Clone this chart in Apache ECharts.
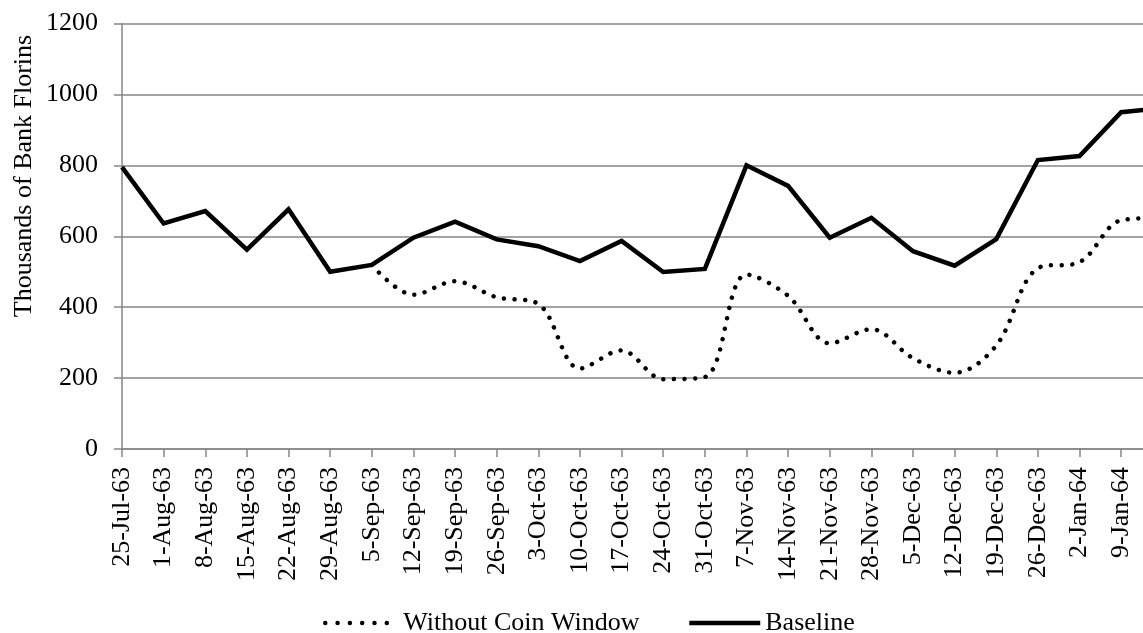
<!DOCTYPE html>
<html>
<head>
<meta charset="utf-8">
<script src="https://cdn.jsdelivr.net/npm/echarts@6/dist/echarts.min.js"></script>
<style>
html,body{margin:0;padding:0;background:#fff;}
#chart{width:1143px;height:633px;}
</style>
</head>
<body>
<div id="chart"></div>
<script>
var categories = ['25-Jul-63','1-Aug-63','8-Aug-63','15-Aug-63','22-Aug-63','29-Aug-63','5-Sep-63','12-Sep-63','19-Sep-63','26-Sep-63','3-Oct-63','10-Oct-63','17-Oct-63','24-Oct-63','31-Oct-63','7-Nov-63','14-Nov-63','21-Nov-63','28-Nov-63','5-Dec-63','12-Dec-63','19-Dec-63','26-Dec-63','2-Jan-64','9-Jan-64','16-Jan-64'];
var baseline = [795, 636, 671, 562, 676, 500, 519, 596, 641, 591, 572, 530, 587, 499, 508, 800, 742, 596, 652, 558, 517, 592, 815, 826, 950, 962];
var withoutCoinWindow = [null, null, null, null, null, null, 519, 435, 473, 428, 409, 227, 278, 197, 203, 492, 432, 298, 338, 256, 215, 292, 510, 527, 645, 652];
var yTicks = [0, 200, 400, 600, 800, 1000, 1200];
var yAxisTitle = 'Thousands of Bank Florins';
var seriesNames = ['Without Coin Window', 'Baseline'];

var FONT = 'Liberation Serif';
var chart = echarts.init(document.getElementById('chart'), null, {renderer: 'canvas'});
var option = {
  animation: false,
  backgroundColor: '#ffffff',
  grid: {left: 122, top: 23.5, width: 1040.8, height: 425.5, containLabel: false, outerBoundsMode: 'none'},
  xAxis: {
    type: 'category',
    data: categories,
    boundaryGap: false,
    axisLine: {show: true, lineStyle: {color: '#868686', width: 1.5}},
    axisTick: {show: true, inside: false, length: 8, alignWithLabel: true, lineStyle: {color: '#868686', width: 1.5}},
    axisLabel: {interval: 0, rotate: 90, margin: 18, padding: [9, 0, 0, 0], fontFamily: FONT, fontSize: 26, color: '#000'},
    splitLine: {show: false}
  },
  yAxis: {
    type: 'value',
    min: yTicks[0],
    max: yTicks[yTicks.length - 1],
    interval: 200,
    axisLine: {show: true, lineStyle: {color: '#868686', width: 1.5}},
    axisTick: {show: true, inside: false, length: 8, lineStyle: {color: '#868686', width: 1.5}},
    axisLabel: {margin: 24, fontFamily: FONT, fontSize: 26, color: '#000', formatter: function (v) { return String(v); }},
    splitLine: {show: true, lineStyle: {color: '#868686', width: 1.5}}
  },
  legend: [
    {
      data: [seriesNames[0]],
      left: 318, top: 605,
      itemWidth: 62, itemHeight: 26,
      itemStyle: {opacity: 0},
      lineStyle: {width: 4.5, type: [0.01, 12.3], cap: 'round', color: '#000'},
      textStyle: {fontFamily: FONT, fontSize: 26, color: '#000', padding: [0, 0, 0, 11]}
    },
    {
      data: [seriesNames[1]],
      left: 682, top: 605,
      itemWidth: 71, itemHeight: 26,
      itemStyle: {opacity: 0},
      lineStyle: {width: 4.5, color: '#000'},
      textStyle: {fontFamily: FONT, fontSize: 26, color: '#000'}
    }
  ],
  graphic: [{
    type: 'text',
    x: 24, y: 176,
    rotation: Math.PI / 2,
    style: {text: yAxisTitle, font: '26px "Liberation Serif"', fill: '#000', textAlign: 'center', textVerticalAlign: 'middle'}
  }],
  series: [
    {
      name: seriesNames[0],
      type: 'line',
      data: withoutCoinWindow,
      smooth: 0.35,
      symbol: 'none',
      connectNulls: false,
      color: '#000',
      lineStyle: {color: '#000', width: 4.5, type: [0.01, 10.6], cap: 'round'},
      z: 2
    },
    {
      name: seriesNames[1],
      type: 'line',
      data: baseline,
      smooth: false,
      symbol: 'none',
      color: '#000',
      lineStyle: {color: '#000', width: 4.5, join: 'miter'},
      z: 3
    }
  ]
};
chart.setOption(option);
</script>
</body>
</html>
